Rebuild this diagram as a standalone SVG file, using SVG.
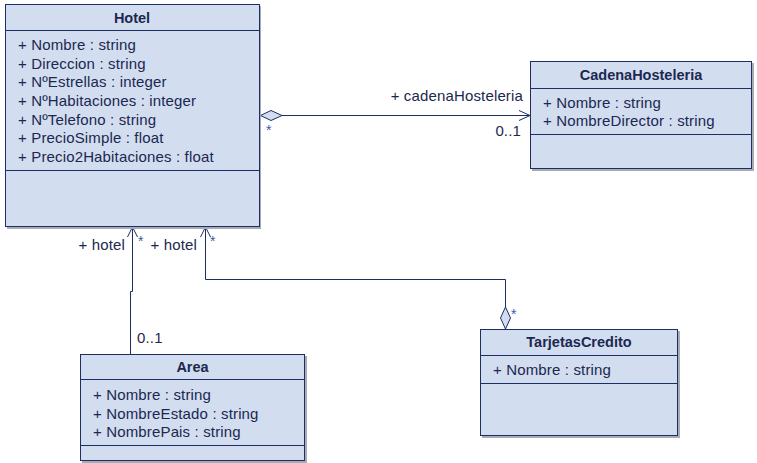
<svg xmlns="http://www.w3.org/2000/svg" width="757" height="463" viewBox="0 0 757 463">
<style>
.sh{fill:#a9acb3;}
.box{fill:#d2ddf0;stroke:#1c2f64;stroke-width:1;}
.sep{stroke:#1c2f64;stroke-width:1;}
.t{font-family:"Liberation Sans",Arial,sans-serif;font-size:14.5px;font-weight:bold;fill:#1b2850;text-anchor:middle;}
.a{font-family:"Liberation Sans",Arial,sans-serif;font-size:15px;letter-spacing:0.15px;fill:#1b2850;}
.l{font-family:"Liberation Sans",Arial,sans-serif;font-size:15px;letter-spacing:0.15px;fill:#1b2850;}
.st{font-family:"Liberation Sans",Arial,sans-serif;font-size:14px;fill:#3a5aa8;}
.c{fill:none;stroke:#1c2f64;stroke-width:1;}
.d{fill:#d2ddf0;stroke:#1c2f64;stroke-width:1;}
</style>
<rect width="757" height="463" fill="#ffffff"/>
<g id="connectors">
<line class="c" x1="282" y1="115.5" x2="530" y2="115.5"/>
<polygon class="d" points="260.5,115.5 271,110.5 282,115.5 271,120.5"/>
<polyline class="c" points="519,110.5 530,115.5 519,120.5"/>
<polyline class="c" points="132.5,227 132.5,291.5 130.5,291.5 130.5,354"/>
<polyline class="c" points="127.5,237 132.5,227 137.5,237"/>
<polyline class="c" points="205.5,227 205.5,279.5 505.5,279.5 505.5,307"/>
<polyline class="c" points="200.5,237 205.5,227 210.5,237"/>
<polygon class="d" points="505.5,307 510.5,318 505.5,329 500.5,318"/>
<text class="l" x="523" y="101" text-anchor="end">+ cadenaHosteleria</text>
<text class="l" x="521" y="136" text-anchor="end">0..1</text>
<text class="st" x="266" y="135">*</text>
<text class="l" x="125" y="250" text-anchor="end">+ hotel</text>
<text class="st" x="138" y="246">*</text>
<text class="l" x="197" y="250" text-anchor="end">+ hotel</text>
<text class="st" x="210" y="246">*</text>
<text class="l" x="137" y="343">0..1</text>
<text class="st" x="511" y="319">*</text>
</g>
<g id="Hotel">
<rect class="sh" x="7" y="6" width="254" height="223"/>
<rect class="box" x="5.5" y="4.5" width="254" height="222"/>
<line class="sep" x1="5.5" y1="30.5" x2="259.5" y2="30.5"/>
<line class="sep" x1="5.5" y1="170.5" x2="259.5" y2="170.5"/>
<text class="t" x="132" y="23">Hotel</text>
<text class="a" x="18" y="50">+ Nombre : string</text>
<text class="a" x="18" y="68.7">+ Direccion : string</text>
<text class="a" x="18" y="87.3">+ NºEstrellas : integer</text>
<text class="a" x="18" y="106">+ NºHabitaciones : integer</text>
<text class="a" x="18" y="124.7">+ NºTelefono : string</text>
<text class="a" x="18" y="143.3">+ PrecioSimple : float</text>
<text class="a" x="18" y="162">+ Precio2Habitaciones : float</text>
</g>
<g id="CadenaHosteleria">
<rect class="sh" x="532" y="63" width="222" height="108"/>
<rect class="box" x="530.5" y="61.5" width="221" height="107"/>
<line class="sep" x1="530.5" y1="88.5" x2="751.5" y2="88.5"/>
<line class="sep" x1="530.5" y1="134.5" x2="751.5" y2="134.5"/>
<text class="t" x="641" y="80">CadenaHosteleria</text>
<text class="a" x="543" y="107.5">+ Nombre : string</text>
<text class="a" x="543" y="126">+ NombreDirector : string</text>
</g>
<g id="Area">
<rect class="sh" x="82" y="356" width="225" height="107"/>
<rect class="box" x="80.5" y="354.5" width="224" height="106"/>
<line class="sep" x1="80.5" y1="379.5" x2="304.5" y2="379.5"/>
<line class="sep" x1="80.5" y1="445.5" x2="304.5" y2="445.5"/>
<text class="t" x="192.5" y="371.5">Area</text>
<text class="a" x="93" y="400">+ Nombre : string</text>
<text class="a" x="93" y="419">+ NombreEstado : string</text>
<text class="a" x="93" y="437.3">+ NombrePais : string</text>
</g>
<g id="TarjetasCredito">
<rect class="sh" x="482" y="331" width="198" height="107"/>
<rect class="box" x="480.5" y="329.5" width="197" height="106"/>
<line class="sep" x1="480.5" y1="355.5" x2="677.5" y2="355.5"/>
<line class="sep" x1="480.5" y1="383.5" x2="677.5" y2="383.5"/>
<text class="t" x="579" y="346.5">TarjetasCredito</text>
<text class="a" x="493" y="375">+ Nombre : string</text>
</g>
</svg>
